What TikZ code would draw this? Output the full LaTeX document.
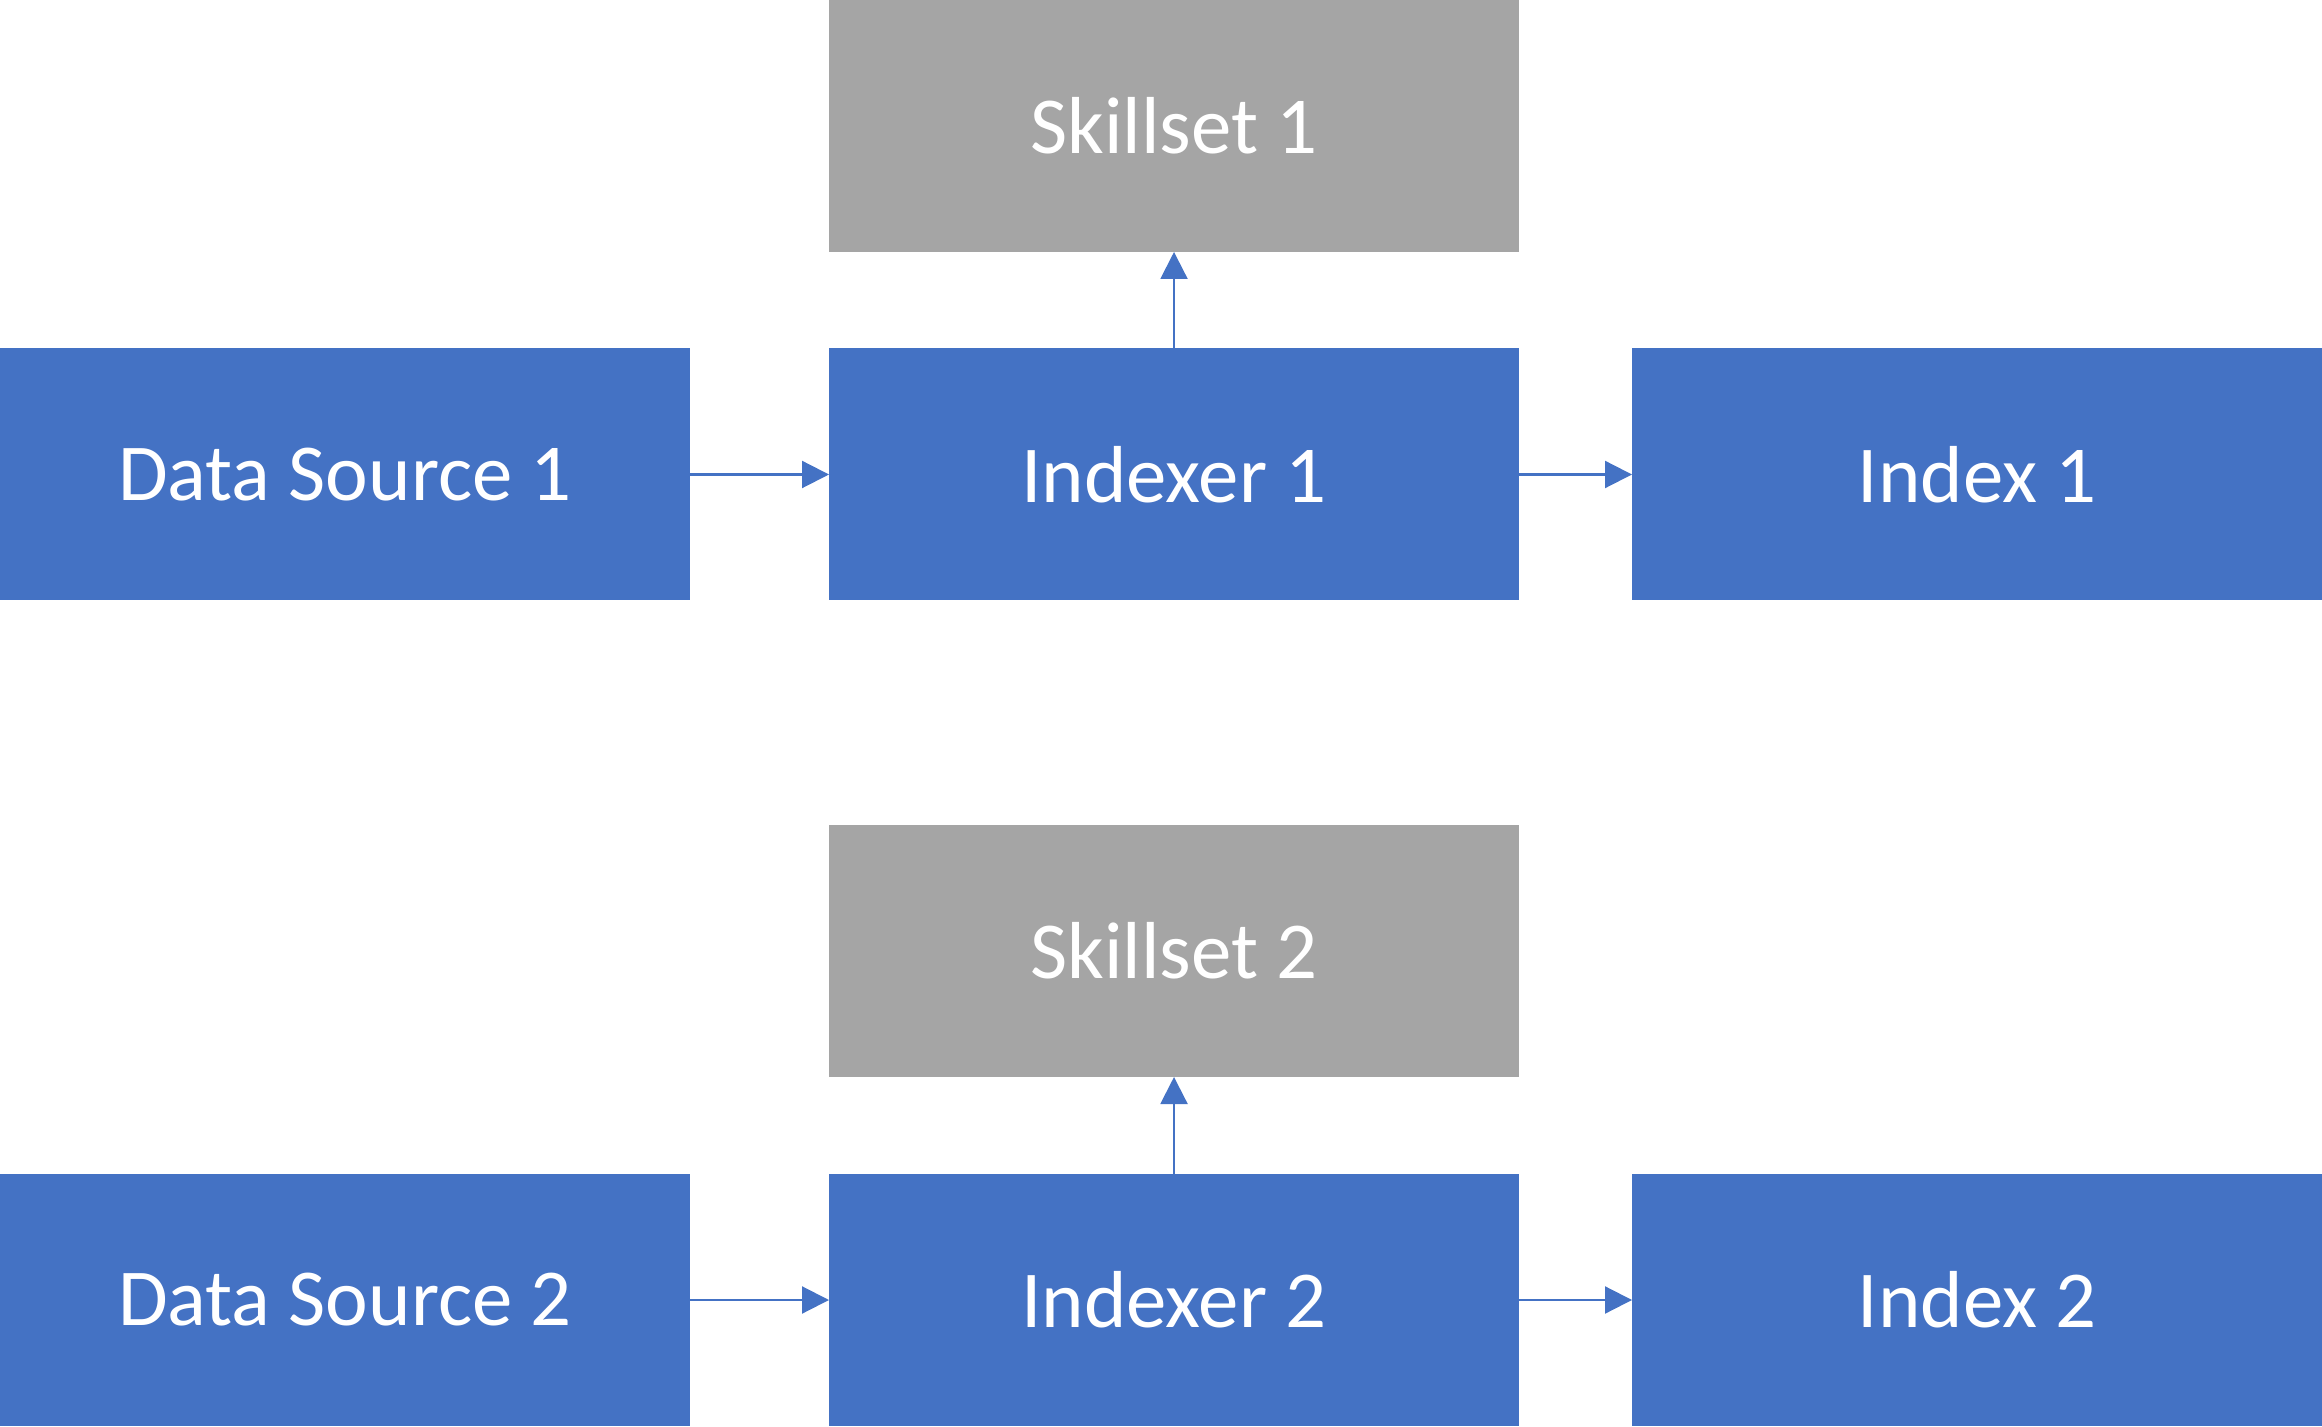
\documentclass[tikz,border=0pt]{standalone}
\usepackage{fontspec}
\setsansfont{Carlito}
\usetikzlibrary{arrows.meta}
\definecolor{boxblue}{HTML}{4472C4}
\definecolor{boxgrey}{HTML}{A5A5A5}

\begin{document}
\begin{tikzpicture}[font=\sffamily\fontsize{23}{28}\selectfont,
    >={Triangle[length=0.27cm,width=0.27cm]},
    stage/.style={fill=boxblue,text=white,minimum width=6.9cm,
      minimum height=2.52cm,inner sep=0pt,outer sep=0pt},
    skill/.style={stage,fill=boxgrey},
    link/.style={->,line width=0.6pt,draw=boxblue}]
  \useasboundingbox (0,0) rectangle (23.22,14.26);

  % First pipeline.
  \node[skill] (skill1) at (11.74,13.0) {Skillset 1};
  \node[stage] (src1) at (3.45,9.515) {Data Source 1};
  \node[stage] (indexer1) at (11.74,9.515) {Indexer 1};
  \node[stage] (index1) at (19.77,9.515) {Index 1};
  \draw[link] (src1) -- (indexer1);
  \draw[link] (indexer1) -- (index1);
  \draw[link] (indexer1) -- (skill1);

  % Second pipeline.
  \node[skill] (skill2) at (11.74,4.75) {Skillset 2};
  \node[stage] (src2) at (3.45,1.26) {Data Source 2};
  \node[stage] (indexer2) at (11.74,1.26) {Indexer 2};
  \node[stage] (index2) at (19.77,1.26) {Index 2};
  \draw[link] (src2) -- (indexer2);
  \draw[link] (indexer2) -- (index2);
  \draw[link] (indexer2) -- (skill2);
\end{tikzpicture}
\end{document}
